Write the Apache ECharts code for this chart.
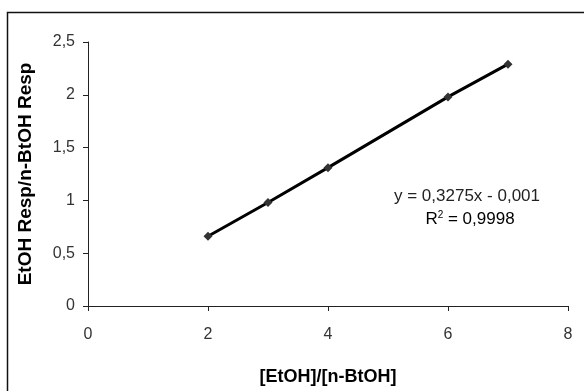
<!DOCTYPE html>
<html>
<head>
<meta charset="utf-8">
<script src="https://cdn.jsdelivr.net/npm/echarts@6/dist/echarts.min.js"></script>
<style>
html,body{margin:0;padding:0;background:#fff;}
#chart{width:584px;height:391px;}
</style>
</head>
<body>
<div id="chart"></div>
<script>
const xValues = [2, 3, 4, 6, 7];
const yValues = [0.66, 0.98, 1.31, 1.98, 2.29];
const xTicks = [0, 2, 4, 6, 8];
const yTicks = [0, 0.5, 1, 1.5, 2, 2.5];
const xTitle = '[EtOH]/[n-BtOH]';
const yTitle = 'EtOH Resp/n-BtOH Resp';
const eqLine = 'y = 0,3275x - 0,001';
const r2Value = '0,9998';

const fmt = v => String(v).replace('.', ',');
const chart = echarts.init(document.getElementById('chart'), null, {renderer: 'canvas'});
const font = 'Liberation Sans, Arial, sans-serif';
chart.setOption({
  animation: false,
  backgroundColor: '#fff',
  grid: {left: 88, right: 16, top: 42, bottom: 81, containLabel: false},
  xAxis: {
    type: 'value', min: xTicks[0], max: xTicks[xTicks.length-1], interval: 2,
    name: xTitle, nameLocation: 'middle', nameGap: 62,
    nameTextStyle: {fontFamily: font, fontWeight: 'bold', fontSize: 18, color: '#000'},
    axisLine: {show: true, lineStyle: {color: '#222', width: 1}},
    axisTick: {show: true, inside: false, length: 5, lineStyle: {color: '#222'}},
    axisLabel: {fontFamily: font, fontSize: 16, color: '#333', margin: 21, formatter: fmt},
    splitLine: {show: false}
  },
  yAxis: {
    type: 'value', min: yTicks[0], max: yTicks[yTicks.length-1], interval: 0.5,
    name: yTitle, nameLocation: 'middle', nameGap: 53, nameRotate: 90,
    nameTextStyle: {fontFamily: font, fontWeight: 'bold', fontSize: 19, color: '#000'},
    axisLine: {show: true, onZero: false, lineStyle: {color: '#222', width: 1}},
    axisTick: {show: true, inside: false, length: 5, lineStyle: {color: '#222'}},
    axisLabel: {fontFamily: font, fontSize: 16, color: '#333', margin: 13, formatter: fmt},
    splitLine: {show: false}
  },
  series: [{
    type: 'line',
    data: xValues.map((x, i) => [x, yValues[i]]),
    lineStyle: {color: '#000', width: 3},
    symbol: 'diamond', symbolSize: 9,
    itemStyle: {color: '#333'},
    z: 3
  }],
  graphic: [
    {type: 'rect', left: 5, top: 10, shape: {width: 600, height: 400},
     style: {fill: 'none', stroke: '#111', lineWidth: 1.5}, silent: true, z: -1},
    {type: 'text', x: 467, y: 196,
     style: {text: eqLine, font: '17px Liberation Sans, Arial, sans-serif', fill: '#222',
       textAlign: 'center', textVerticalAlign: 'middle'}},
    {type: 'text', x: 470, y: 219,
     style: {text: '{a|R}{s|2}{a| = ' + r2Value + '}', textAlign: 'center', textVerticalAlign: 'middle',
       rich: {a: {fontFamily: font, fontSize: 17, color: '#222'},
              s: {fontFamily: font, fontSize: 10, color: '#222', verticalAlign: 'top', padding: [0,0,8,0]}}}}
  ]
});
</script>
</body>
</html>
